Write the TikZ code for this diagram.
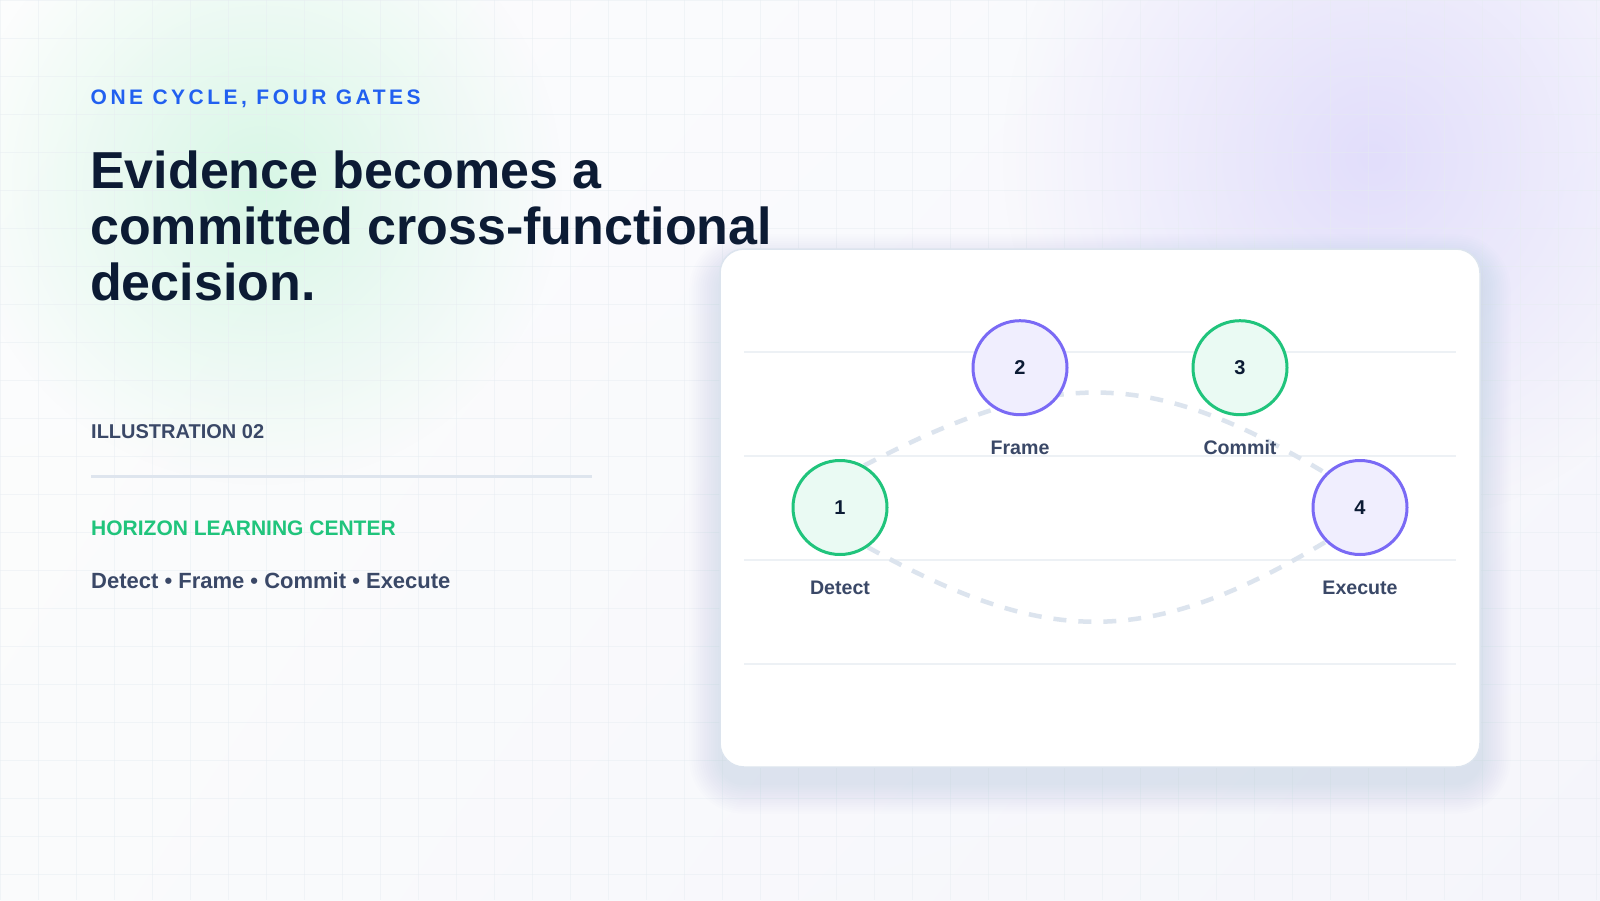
\documentclass[tikz,border=0pt]{standalone}
\usepackage{fontspec}
\setmainfont{Liberation Sans}
\newfontfamily\kickerfont{Liberation Sans}[LetterSpace=16.7]
\usetikzlibrary{fadings,calc,shadings}
\definecolor{kickblue}{HTML}{2160F0}
\definecolor{titlenavy}{HTML}{0C1B34}
\definecolor{slatetext}{HTML}{3A4867}
\definecolor{brandgreen}{HTML}{20C47C}
\definecolor{gatepurple}{HTML}{7A6AF5}
\definecolor{fillgreen}{HTML}{EAFAF3}
\definecolor{fillpurple}{HTML}{F0EEFE}
\definecolor{gridc}{HTML}{E6ECF1}
\definecolor{cardline}{HTML}{EDF1F5}
\definecolor{cardborder}{HTML}{DCE4EE}
\definecolor{dividerc}{HTML}{DEE5EE}
\definecolor{flowc}{HTML}{DCE4EE}
\definecolor{glowgreen}{HTML}{D8F7E6}
\definecolor{glowpurple}{HTML}{E2DEFB}
\definecolor{shadowc}{HTML}{5A6A9A}
\definecolor{bgul}{HTML}{FCFDFD}
\definecolor{bgur}{HTML}{F8F8FD}
\definecolor{bgll}{HTML}{FAFBFC}
\definecolor{bglr}{HTML}{F5F5FB}
\pgfdeclarelayer{back}
\pgfdeclarelayer{mid}
\pgfsetlayers{back,mid,main}
\tikzfading[name=glowfade, inner color=transparent!0, outer color=transparent!100]
\begin{document}
\begin{tikzpicture}[x=1pt,y=-1pt,
  gate/.style={circle, minimum size=94pt, inner sep=0pt, line width=3pt,
    font=\fontsize{20}{24}\selectfont\bfseries, text=titlenavy},
  gategreen/.style={draw=brandgreen, fill=fillgreen},
  gatepurple/.style={draw=gatepurple, fill=fillpurple},
  lbl/.style={inner sep=0pt, font=\fontsize{19.6}{23}\selectfont\bfseries, text=slatetext},
  flow/.style={draw=flowc, line width=4.5pt, dash pattern=on 13pt off 12pt},
  txt/.style={inner sep=0pt, anchor=base west},
  gridline/.style={draw=gridc, line width=1pt, opacity=0.45},
  cardrule/.style={draw=cardline, line width=2pt}
]
\useasboundingbox (0,0) rectangle (1600,900);
\begin{pgfonlayer}{back}
  \shade[upper left=bgul, upper right=bgur, lower left=bgll, lower right=bglr]
     (0,0) rectangle (1600,900);
  \fill[glowgreen, path fading=glowfade] (262,185) circle [radius=300pt];
  \fill[glowpurple, path fading=glowfade] (1373,157) circle [radius=370pt];
  \foreach \gx in {0,38,...,1600} \draw[gridline] (\gx,0) -- (\gx,900);
  \foreach \gy in {0,38,...,900} \draw[gridline] (0,\gy) -- (1600,\gy);
  % card shadow
  \foreach \i in {1,...,14} {
    \pgfmathsetmacro\rr{24+2.2*\i}
    \pgfmathsetmacro\dd{2.2*\i}
    \fill[shadowc, opacity=0.008, rounded corners=\rr pt]
      (720-\dd,265-\dd) rectangle (1480+\dd,783+\dd);
  }
  % card
  \fill[white, rounded corners=24pt] (720,249) rectangle (1480,767);
  \draw[cardborder, line width=1.5pt, rounded corners=24pt] (720,249) rectangle (1480,767);
  \draw[cardrule] (744,352) -- (1456,352);
  \draw[cardrule] (744,456) -- (1456,456);
  \draw[cardrule] (744,560) -- (1456,560);
  \draw[cardrule] (744,664) -- (1456,664);
  % divider
  \draw[dividerc, line width=3pt] (91,476) -- (592,476);
\end{pgfonlayer}

% left column text
\node[txt, text=kickblue, font=\kickerfont\fontsize{21}{25}\selectfont\bfseries] (kicker) at (90.5,104) {ONE CYCLE, FOUR GATES};
\node[txt, text=titlenavy, font=\fontsize{52}{56}\selectfont\bfseries] (t1) at (90,188.3) {Evidence becomes a};
\node[txt, text=titlenavy, font=\fontsize{52}{56}\selectfont\bfseries] (t2) at (90,244.2) {committed cross-functional};
\node[txt, text=titlenavy, font=\fontsize{52}{56}\selectfont\bfseries] (t3) at (90,300) {decision.};
\node[txt, text=slatetext, font=\fontsize{20}{24}\selectfont\bfseries] (ill) at (91,438.3) {ILLUSTRATION 02};
\node[txt, text=brandgreen, font=\fontsize{21}{25}\selectfont\bfseries] (org) at (91,535) {HORIZON LEARNING CENTER};
\node[txt, text=slatetext, font=\fontsize{22}{26}\selectfont\bfseries] (steps) at (91,588.3) {Detect • Frame • Commit • Execute};

% gates
\node[gate, gategreen] (n1) at (840,507.5) {1};
\node[gate, gatepurple] (n2) at (1020,367.7) {2};
\node[gate, gategreen] (n3) at (1240,367.7) {3};
\node[gate, gatepurple] (n4) at (1360,507.5) {4};
\node[lbl, anchor=base] (l1) at ($(n1.center)+(0,86.5)$) {Detect};
\node[lbl, anchor=base] (l2) at ($(n2.center)+(0,86.5)$) {Frame};
\node[lbl, anchor=base] (l3) at ($(n3.center)+(0,86.5)$) {Commit};
\node[lbl, anchor=base] (l4) at ($(n4.center)+(0,86.5)$) {Execute};

\begin{pgfonlayer}{mid}
  \draw[flow] (n1.60) .. controls (1055,366) and (1150,368) .. (n4.135);
  \draw[flow] (n1.-55) .. controls (1045,645) and (1145,650) .. (n4.-135);
\end{pgfonlayer}
\end{tikzpicture}
\end{document}
